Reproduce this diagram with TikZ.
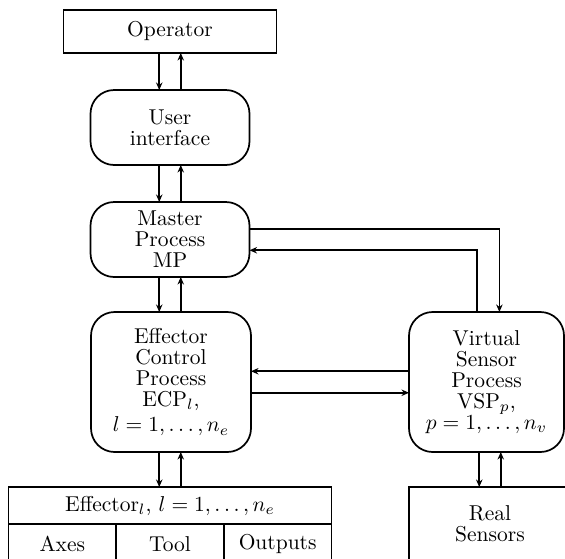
\documentclass[tikz,border=0pt]{standalone}
\usetikzlibrary{arrows.meta}
\newcommand{\pxu}{0.465pt}
\tikzset{
  txt/.style={font=\fontsize{10}{9.8}\selectfont, align=center, inner sep=0pt, outer sep=0pt},
  sqbox/.style={txt, draw, rectangle},
  procbox/.style={txt, draw, rectangle, rounded corners=11pt},
}
\begin{document}
\begin{tikzpicture}[x=0.465pt, y=-0.465pt, line width=0.8pt, >={Stealth[length=3.5pt,width=3pt]}]
			\clip (0,0) rectangle (565,558);
			% boxes
			\node[sqbox, minimum width=213*\pxu, minimum height=43*\pxu] (op) at (170,31.5) {Operator};
			\node[procbox, minimum width=159*\pxu, minimum height=75*\pxu] (ui) at (170,127.5) {User\\interface};
			\node[procbox, minimum width=159*\pxu, minimum height=75*\pxu] (mp) at (170,239.5) {Master\\Process\\MP};
			\node[procbox, minimum width=160*\pxu, minimum height=140*\pxu] (ecp) at (171,382) {Effector\\Control\\Process\\ECP$_l$,\\[2pt]$l=1,\ldots,n_e$};
			\node[procbox, minimum width=155*\pxu, minimum height=140*\pxu] (vsp) at (486.5,382) {Virtual\\Sensor\\Process\\VSP$_p$,\\$p=1,\ldots,n_v$};
			\node[sqbox, minimum width=323*\pxu, minimum height=37*\pxu] (eff) at (170,505.5) {Effector$_l$, $l=1,\ldots,n_e$};
			\node[sqbox, anchor=north west, minimum width=323/3*\pxu, minimum height=40*\pxu] (axes) at (eff.south west) {Axes};
			\node[sqbox, anchor=north west, minimum width=323/3*\pxu, minimum height=40*\pxu] (tool) at (axes.north east) {Tool};
			\node[sqbox, anchor=north west, minimum width=323/3*\pxu, minimum height=40*\pxu] (outs) at (tool.north east) {Outputs};
			\node[sqbox, minimum width=162*\pxu, minimum height=74*\pxu] (rs) at (490,524) {Real\\Sensors};
			% vertical links
			\draw[->] ([xshift=-5pt]op.south) -- ([xshift=-5pt]ui.north);
			\draw[<-] ([xshift=5pt]op.south) -- ([xshift=5pt]ui.north);
			\draw[->] ([xshift=-5pt]ui.south) -- ([xshift=-5pt]mp.north);
			\draw[<-] ([xshift=5pt]ui.south) -- ([xshift=5pt]mp.north);
			\draw[->] ([xshift=-5pt]mp.south) -- ([xshift=-5pt]ecp.north -| mp.south);
			\draw[<-] ([xshift=5pt]mp.south) -- ([xshift=5pt]ecp.north -| mp.south);
			\draw[->] ([xshift=-5pt]ecp.south -| eff.north) -- ([xshift=-5pt]eff.north);
			\draw[<-] ([xshift=5pt]ecp.south -| eff.north) -- ([xshift=5pt]eff.north);
			\coordinate (rsin) at ([xshift=-5pt]rs.north);
			\coordinate (rsout) at ([xshift=5pt]rs.north);
			\draw[->] (rsin |- vsp.south) -- (rsin);
			\draw[<-] (rsout |- vsp.south) -- (rsout);
			% links to the sensor side
			\draw[->] ([yshift=5pt]mp.east) -| ([xshift=6pt]vsp.north);
			\draw[->] ([xshift=-4.5pt]vsp.north) |- ([yshift=-5pt]mp.east);
			\draw[<-] ([yshift=5pt]ecp.east) -- ([yshift=5pt]vsp.west);
			\draw[->] ([yshift=-5pt]ecp.east) -- ([yshift=-5pt]vsp.west);
		\end{tikzpicture}
\end{document}
